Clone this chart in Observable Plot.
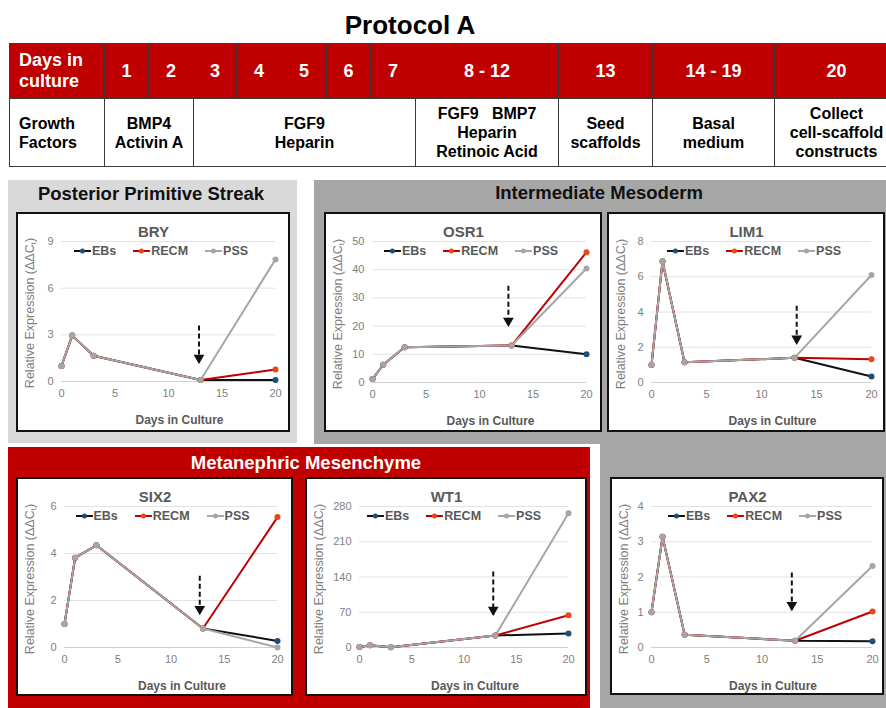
<!DOCTYPE html>
<html>
<head>
<meta charset="utf-8">
<script src="https://cdn.jsdelivr.net/npm/d3@7"></script>
<script src="https://cdn.jsdelivr.net/npm/@observablehq/plot@0.6"></script>
<style>
  html, body { margin: 0; padding: 0; background: #fff; }
  body { width: 886px; height: 708px; position: relative; overflow: hidden;
         font-family: "Liberation Sans", Arial, Helvetica, sans-serif; }
  #title { position: absolute; left: 410px; top: 25px; transform: translate(-50%, -50%);
           font-size: 26px; font-weight: bold; color: #000; white-space: nowrap; }
  #protocol { position: absolute; left: 9px; top: 43px; border-collapse: collapse;
              table-layout: fixed; font-weight: bold; }
  #protocol td { border: 1px solid #3a3a3a; padding: 0; text-align: center;
                 vertical-align: middle; white-space: pre-line; overflow: hidden; }
  #protocol tr.hd td { background: #c00000; color: #fff; font-size: 18px; line-height: 21px; height: 54px; }
  #protocol tr.bd td { background: #fff; color: #000; font-size: 16px; line-height: 19px; height: 67px; }
  #protocol td.first { text-align: left; padding-left: 9px; }
  .panel { position: absolute; }
  .ptitle { position: absolute; transform: translate(-50%, -50%); font-size: 18.5px;
            font-weight: bold; white-space: nowrap; }
  .box { position: absolute; box-sizing: border-box; border: 2px solid #111; background: #fff; }
  .box svg { display: block; }
  .ylab { position: absolute; transform: translate(-50%, -50%) rotate(-90deg); white-space: nowrap;
          font-size: 12.5px; color: #808080; }
  .ylab sub { font-size: 8px; vertical-align: -2px; }
  .legend { position: absolute; display: flex; align-items: center; transform: translate(-50%, -50%);
            white-space: nowrap; font-size: 12.5px; font-weight: bold; color: #595959; }
  .legend .item { display: flex; align-items: center; margin-right: 17px; }
  .legend .item:last-child { margin-right: 0; }
  .legend svg { margin-right: 1px; }
</style>
</head>
<body>
<div id="title">Protocol A</div>
<script>
// ---- Protocol table ----
const dayHeaders = ["Days in\nculture", "1", "2", "3", "4", "5", "6", "7", "8 - 12", "13", "14 - 19", "20"];
const factorLabels = ["Growth\nFactors", "BMP4\nActivin A", "FGF9\nHeparin",
  "FGF9\u00a0\u00a0 BMP7\nHeparin\nRetinoic Acid", "Seed\nscaffolds", "Basal\nmedium",
  "Collect\ncell-scaffold\nconstructs"];
const factorSpans = [1, 2, 5, 1, 1, 1, 1];

// ---- Expression data: days 0, 1, 3, 13 are common to all groups; day 20 per group ----
const days = [0, 1, 3, 13, 20];
const groups = ["EBs", "RECM", "PSS"];

const bryShared = [1.0, 2.95, 1.65, 0.1];
const bryDay20 = [0.1, 0.77, 7.85];
const osr1Shared = [1.2, 6.3, 12.5, 13.1];
const osr1Day20 = [10.0, 46.2, 40.4];
const lim1Shared = [1.0, 6.88, 1.15, 1.4];
const lim1Day20 = [0.34, 1.32, 6.1];
const six2Shared = [1.0, 3.82, 4.35, 0.81];
const six2Day20 = [0.28, 5.55, 0.0];
const wt1Shared = [1.0, 4.6, 0.6, 23.8];
const wt1Day20 = [27.8, 64.2, 266.8];
const pax2Shared = [1.0, 3.14, 0.36, 0.19];
const pax2Day20 = [0.18, 1.02, 2.31];

// y-axis tick values
const bryTicks = [0, 3, 6, 9];
const osr1Ticks = [0, 10, 20, 30, 40, 50];
const lim1Ticks = [0, 2, 4, 6, 8];
const six2Ticks = [0, 2, 4, 6];
const wt1Ticks = [0, 70, 140, 210, 280];
const pax2Ticks = [0, 1, 2, 3, 4];
const dayTicks = [0, 5, 10, 15, 20];

// scaffold seeding arrow (day, top of shaft, tip), one per gene: BRY, OSR1, LIM1, SIX2, WT1, PAX2
const arrowDay = [12.85, 12.7, 13.2, 12.7, 12.8, 12.7];
const arrowTop = [3.6, 34.3, 4.35, 3.05, 151, 2.13];
const arrowTip = [1.2, 20.1, 2.2, 1.42, 65, 1.06];

const sectionTitles = ["Posterior Primitive Streak", "Intermediate Mesoderm", "Metanephric Mesenchyme"];

// ---- build the table ----
const colWidths = [95, 44, 45, 43, 45, 45, 44, 45, 143, 94, 122, 124];
const table = document.createElement("table");
table.id = "protocol";
const cg = document.createElement("colgroup");
colWidths.forEach(w => { const c = document.createElement("col"); c.style.width = w + "px"; cg.appendChild(c); });
table.appendChild(cg);
table.style.width = d3.sum(colWidths) + "px";
const hd = table.insertRow(); hd.className = "hd";
dayHeaders.forEach((t, i) => { const c = hd.insertCell(); c.textContent = t; if (i === 0) c.className = "first"; });
const bd = table.insertRow(); bd.className = "bd";
factorLabels.forEach((t, i) => { const c = bd.insertCell(); c.textContent = t; c.colSpan = factorSpans[i]; if (i === 0) c.className = "first"; });
document.body.appendChild(table);

// ---- section panels ----
function panel(left, top, w, h, bg) {
  const d = document.createElement("div");
  d.className = "panel";
  Object.assign(d.style, {left: left + "px", top: top + "px", width: w + "px", height: h + "px", background: bg});
  document.body.appendChild(d);
}
panel(8, 180, 289, 263, "#d9d9d9");
panel(314, 180, 572, 264, "#a6a6a6");
panel(600, 444, 286, 264, "#a6a6a6");
panel(8, 447, 582, 261, "#c00000");

function sectionTitle(text, cx, cy, color) {
  const d = document.createElement("div");
  d.className = "ptitle";
  d.textContent = text;
  Object.assign(d.style, {left: cx + "px", top: cy + "px", color});
  document.body.appendChild(d);
}
sectionTitle(sectionTitles[0], 151, 194, "#111");
sectionTitle(sectionTitles[1], 599, 193, "#111");
sectionTitle(sectionTitles[2], 306, 463, "#fff");

// ---- line charts ----
const groupStyle = {
  EBs: {line: "#111111", dot: "#1f4e79"},
  RECM: {line: "#c00000", dot: "#e8461a"},
  PSS: {line: "#a6a6a6", dot: "#a6a6a6"}
};

const charts = [
  {gene: "BRY", shared: bryShared, day20: bryDay20, ticks: bryTicks},
  {gene: "OSR1", shared: osr1Shared, day20: osr1Day20, ticks: osr1Ticks},
  {gene: "LIM1", shared: lim1Shared, day20: lim1Day20, ticks: lim1Ticks},
  {gene: "SIX2", shared: six2Shared, day20: six2Day20, ticks: six2Ticks},
  {gene: "WT1", shared: wt1Shared, day20: wt1Day20, ticks: wt1Ticks},
  {gene: "PAX2", shared: pax2Shared, day20: pax2Day20, ticks: pax2Ticks}
];

// box placement (outer, incl. 2px border) and plot margins
const boxes = [
  {left: 16, top: 212, w: 274, h: 220, mL: 43, mR: 13, mT: 27, mB: 49},
  {left: 324, top: 212, w: 278, h: 220, mL: 46, mR: 14, mT: 27, mB: 48},
  {left: 607, top: 212, w: 278, h: 220, mL: 42, mR: 12, mT: 27, mB: 48},
  {left: 16, top: 477, w: 277, h: 219, mL: 46, mR: 14, mT: 27, mB: 47},
  {left: 305, top: 477, w: 282, h: 219, mL: 52, mR: 17, mT: 27, mB: 47},
  {left: 610, top: 477, w: 274, h: 218, mL: 39, mR: 10, mT: 27, mB: 46}
];

function swatch(g) {
  const s = groupStyle[g];
  return `<svg width="17" height="8"><line x1="0" x2="17" y1="4" y2="4" stroke="${s.line}" stroke-width="2"/>` +
         `<circle cx="8.5" cy="4" r="2.5" fill="${s.dot}"/></svg>`;
}

charts.forEach((c, k) => {
  const b = boxes[k];
  const W = b.w - 4, H = b.h - 4;
  const rows = groups.flatMap((g, i) =>
    days.map((d, j) => ({group: g, day: d, value: j < c.shared.length ? c.shared[j] : c.day20[i]})));
  const arrow = [{day: arrowDay[k], top: arrowTop[k], tip: arrowTip[k]}];
  const maxY = c.ticks[c.ticks.length - 1];

  const marks = [
    Plot.ruleY(c.ticks.filter(t => t > 0), {stroke: "#e2e2e2", strokeWidth: 1}),
    Plot.ruleY([0], {stroke: "#d0d0d0", strokeWidth: 1})
  ];
  groups.forEach(g => {
    marks.push(Plot.line(rows.filter(r => r.group === g),
      {x: "day", y: "value", stroke: groupStyle[g].line, strokeWidth: 2}));
  });
  groups.forEach(g => {
    marks.push(Plot.dot(rows.filter(r => r.group === g),
      {x: "day", y: "value", r: 3, fill: groupStyle[g].dot, stroke: "none"}));
  });
  marks.push(
    Plot.link(arrow, {x1: "day", x2: "day", y1: "top", y2: "tip", stroke: "#111", strokeWidth: 2, strokeDasharray: "5,3"}),
    Plot.dot(arrow, {x: "day", y: "tip", symbol: "triangle", rotate: 180, r: 4, fill: "#111", stroke: "none", dy: -5}),
    Plot.text([c.gene], {frameAnchor: "top", lineAnchor: "middle", dy: -9, dx: (b.mR - b.mL) / 2,
      fontSize: 15, fontWeight: "bold", fill: "#595959"}),
    Plot.text(["Days in Culture"], {frameAnchor: "bottom", lineAnchor: "middle", dy: 39, dx: 11,
      fontSize: 12, fontWeight: "bold", fill: "#595959"})
  );

  const svg = Plot.plot({
    width: W, height: H,
    marginLeft: b.mL, marginRight: b.mR, marginTop: b.mT, marginBottom: b.mB,
    style: {fontFamily: "'Liberation Sans', Arial, sans-serif", fontSize: "11px", color: "#808080", background: "white", overflow: "visible"},
    x: {domain: [0, 20], ticks: dayTicks, tickSize: 0, tickPadding: 8, label: null, tickFormat: d => String(d)},
    y: {domain: [0, maxY], ticks: c.ticks, tickSize: 0, tickPadding: 8, label: null, tickFormat: d => String(d)},
    marks
  });

  const box = document.createElement("div");
  box.className = "box";
  Object.assign(box.style, {left: b.left + "px", top: b.top + "px", width: b.w + "px", height: b.h + "px"});
  box.appendChild(svg);

  const yl = document.createElement("div");
  yl.className = "ylab";
  yl.innerHTML = "Relative Expression (\u0394\u0394C<sub>t</sub>)";
  yl.style.left = "12px";
  yl.style.top = (b.mT + (H - b.mT - b.mB) / 2 + 2) + "px";
  box.appendChild(yl);

  const lg = document.createElement("div");
  lg.className = "legend";
  lg.innerHTML = groups.map(g => `<span class="item">${swatch(g)}<span>${g}</span></span>`).join("");
  lg.style.left = (W / 2 + 8) + "px";
  lg.style.top = (b.mT + 9.5) + "px";
  box.appendChild(lg);

  document.body.appendChild(box);
});
</script>
</body>
</html>
